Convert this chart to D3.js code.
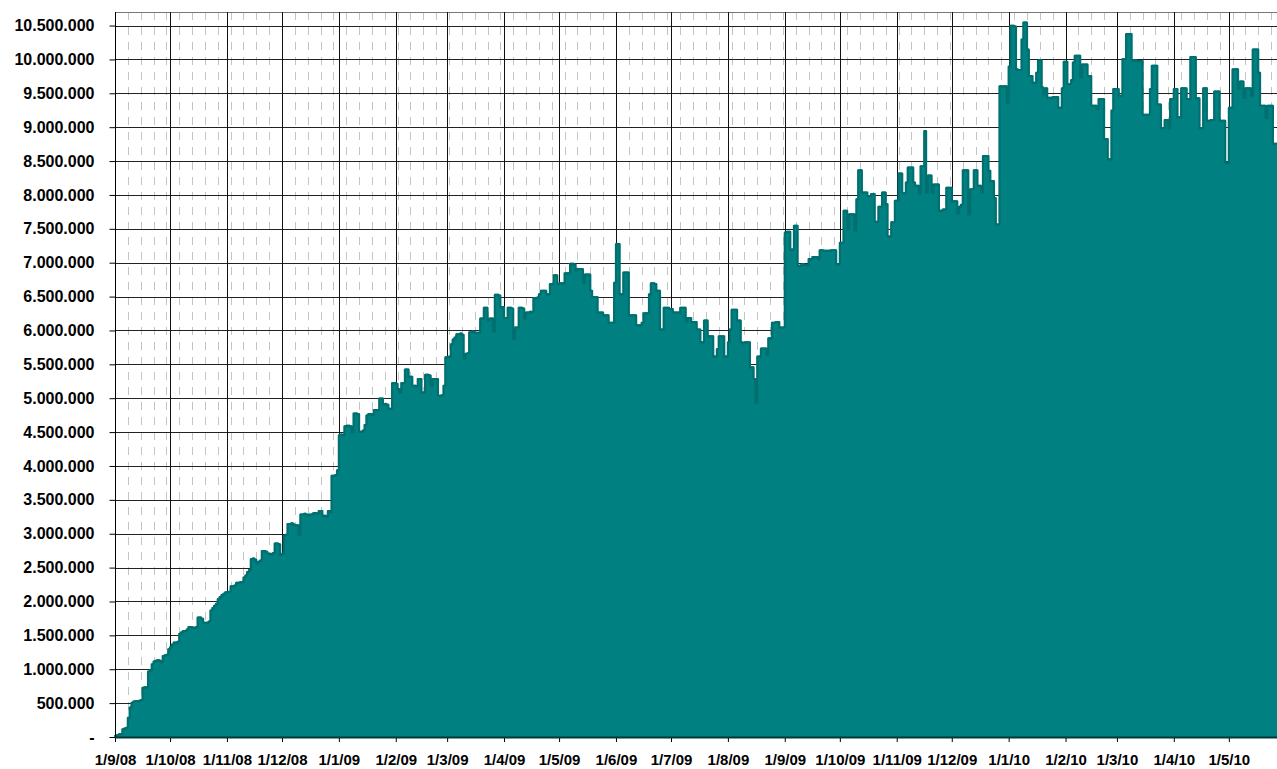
<!DOCTYPE html>
<html>
<head>
<meta charset="utf-8">
<script src="https://cdn.jsdelivr.net/npm/d3@7"></script>
<style>
  body{margin:0;background:#fff}
  svg{display:block}
  .axis text{font-family:"Liberation Sans",Arial,sans-serif;font-weight:bold;fill:#000}
</style>
</head>
<body>
<script>
// daily values, in thousands, one array per month
const sep08=[30,45,55,60,130,140,150,300,450,520,540,545,545,550,560,740,750,750,980,1000,1090,1130,1140,1150,1140,1120,1210,1220,1230,1310]
const oct08=[1340,1380,1410,1410,1420,1540,1560,1580,1580,1600,1640,1640,1630,1620,1640,1780,1780,1760,1700,1700,1700,1720,1880,1920,1950,1980,2050,2080,2110,2130,2150]
const nov08=[2150,2160,2240,2240,2250,2290,2290,2300,2300,2370,2400,2450,2480,2640,2650,2630,2580,2600,2620,2760,2760,2750,2720,2720,2710,2730,2870,2870,2860,2700]
const dec08=[2720,2980,3000,3160,3160,3170,3150,3140,3140,3000,3300,3300,3310,3300,3290,3300,3300,3320,3320,3310,3350,3350,3280,3280,3270,3350,3340,3870,3870,3880,3950]
const jan09=[4470,4480,4470,4600,4610,4610,4600,4510,4790,4790,4780,4520,4520,4540,4620,4760,4780,4780,4770,4840,4840,4840,5010,5010,4930,4930,4920,4860,4860,5240,5240]
const feb09=[5230,5150,5100,5240,5240,5440,5440,5330,5330,5200,5200,5190,5300,5300,5100,5100,5360,5360,5350,5200,5300,5300,5300,5050,5050,5060,5200,5620]
const mar09=[5620,5630,5810,5880,5910,5960,5960,5970,5950,5600,5670,5680,5990,5990,6000,5980,5980,5980,6190,6190,6350,6350,6170,6190,6190,6000,6540,6540,6530,6360,6360]
const apr09=[6200,6200,6350,6350,6340,5890,6060,6060,6350,6350,6340,6190,6280,6280,6290,6280,6490,6490,6500,6550,6600,6600,6600,6550,6550,6700,6700,6830,6830,6700]
const may09=[6710,6710,6710,6860,6860,6860,7000,7000,6990,6900,6920,6920,6920,6720,6840,6840,6840,6600,6510,6510,6510,6280,6280,6280,6240,6240,6240,6130,6130,6130,6720]
const jun09=[7290,7290,6550,6550,6870,6870,6870,6240,6240,6240,6240,6090,6090,6090,6130,6270,6270,6270,6550,6710,6710,6700,6600,6600,6030,6030,6350,6350,6350,6330]
const jul09=[6330,6280,6280,6280,6280,6350,6350,6350,6140,6200,6200,6140,6140,6140,6030,6030,5840,5840,6160,6160,5930,5930,5930,5630,5630,5740,5930,5930,5930,5630,5630]
const aug09=[5840,6030,6320,6320,6320,6160,6160,5840,5820,5840,5840,5840,5470,5470,5300,4950,5630,5630,5750,5750,5750,5660,5900,5900,6130,6130,6140,6140,6060,6060,6060]
const sep09=[7460,7470,7470,7210,7210,7560,7560,6970,6970,6990,6990,6980,6980,7070,7070,7100,7100,7100,7070,7200,7200,7190,7190,7190,7190,7200,7200,7200,6990,6990]
const oct09=[7310,7310,7780,7780,7510,7730,7730,7730,7490,7950,8380,8380,8050,8050,8050,8000,8000,8030,8030,7620,7620,7840,7840,8050,8050,7880,7400,7400,7610,7610,7930]
const nov09=[7930,8330,8330,8040,8040,8200,8420,8420,8420,8200,8150,8150,8030,8440,8440,8960,8050,8300,8300,8050,8170,8170,8170,7780,7780,7800,7800,8120,8120,8120]
const dec09=[7920,7920,7920,7740,7840,7870,8380,8380,8380,7730,8100,8100,8380,8380,8150,8150,8050,8590,8590,8590,8370,8220,8220,7970,7580,7580,9620,9620,9620,9620,9380]
const jan10=[9910,10510,10510,10500,9870,9860,9860,10310,10560,10560,10160,9770,9770,9670,9670,9820,10000,10000,9600,9500,9590,9450,9450,9450,9460,9460,9460,9300,9300,9590,9980]
const feb10=[9980,9650,9650,9710,9970,10070,10070,10070,9750,9940,9940,9940,9770,9770,9330,9330,9330,9280,9430,9430,9430,8840,8840,8540,8540,9260,9580,9580]
const mar10=[9580,9480,9480,10020,10020,10390,10390,10390,10000,10000,10000,9990,9990,9990,9200,9200,9200,9200,9580,9920,9920,9920,9350,9350,9000,9000,9120,9120,9000,9430,9430]
const apr10=[9580,9580,9160,9160,9590,9590,9590,9430,9430,10050,10050,10050,9440,9440,9000,9000,9590,9590,9110,9110,9120,9120,9540,9540,9540,9110,9110,9110,8490,8490]
const may10=[9300,9300,9870,9870,9870,9580,9690,9690,9450,9590,9590,9590,9480,10160,10160,10160,9820,9330,9330,9330,9150,9330,9330,9330,8770,8770,8770]

const monthStarts=["2008-09-01","2008-10-01","2008-11-01","2008-12-01","2009-01-01","2009-02-01","2009-03-01","2009-04-01","2009-05-01","2009-06-01","2009-07-01","2009-08-01","2009-09-01","2009-10-01","2009-11-01","2009-12-01","2010-01-01","2010-02-01","2010-03-01","2010-04-01","2010-05-01"]
const monthValues=[sep08,oct08,nov08,dec08,jan09,feb09,mar09,apr09,may09,jun09,jul09,aug09,sep09,oct09,nov09,dec09,jan10,feb10,mar10,apr10,may10]
const xTickLabels=["1/9/08","1/10/08","1/11/08","1/12/08","1/1/09","1/2/09","1/3/09","1/4/09","1/5/09","1/6/09","1/7/09","1/8/09","1/9/09","1/10/09","1/11/09","1/12/09","1/1/10","1/2/10","1/3/10","1/4/10","1/5/10"]
const yTicks=d3.range(0,10500001,500000)

let chartW=1277, chartH=769
let plotLeft=115, plotTop=12, plotBottom=737, plotRight=1278.4

let data=[]
monthStarts.forEach((m,i)=>{
  let start=new Date(m+"T00:00:00Z")
  monthValues[i].forEach((v,j)=>{
    data.push({date:d3.utcDay.offset(start,j),value:v*1000})
  })
})
// closing point so the last day gets its full width
let stepData=[...data,{date:d3.utcDay.offset(data[data.length-1].date,1),value:data[data.length-1].value}]

let x=d3.scaleUtc().domain([new Date("2008-09-01T00:00:00Z"),new Date("2010-05-28T00:00:00Z")]).range([plotLeft,plotRight])
let y=d3.scaleLinear().domain([0,10700000]).range([plotBottom,plotTop])

let svg=d3.select("body").append("svg").attr("width",chartW).attr("height",chartH)

// minor weekly grid
let mondays=d3.utcMonday.range(d3.utcDay.offset(x.domain()[0],1),x.domain()[1])
svg.append("g").selectAll("line").data(mondays).join("line")
  .attr("x1",d=>Math.round(x(d))+0.5).attr("x2",d=>Math.round(x(d))+0.5)
  .attr("y1",plotTop).attr("y2",plotBottom)
  .attr("stroke","#c4c4c4").attr("stroke-dasharray","8,7")

// horizontal grid
svg.append("g").selectAll("line").data(yTicks.slice(1)).join("line")
  .attr("x1",plotLeft).attr("x2",chartW)
  .attr("y1",d=>Math.round(y(d))+0.5).attr("y2",d=>Math.round(y(d))+0.5)
  .attr("stroke","#222")
svg.append("line").attr("x1",plotLeft).attr("x2",chartW).attr("y1",plotTop+0.5).attr("y2",plotTop+0.5).attr("stroke","#777")

// month grid
let monthDates=monthStarts.map(m=>new Date(m+"T00:00:00Z"))
svg.append("g").selectAll("line").data(monthDates.slice(1)).join("line")
  .attr("x1",d=>Math.round(x(d))+0.5).attr("x2",d=>Math.round(x(d))+0.5)
  .attr("y1",plotTop).attr("y2",plotBottom)
  .attr("stroke","#111")

// daily columns, drawn as one stepped shape so neighbours do not leave seams
let area=d3.area().curve(d3.curveStepAfter)
  .x(d=>x(d.date)).y0(plotBottom).y1(d=>y(d.value))
svg.append("path").datum(stepData).attr("d",area).attr("fill","#008080")
let outline=d3.line().curve(d3.curveStepAfter)
  .x(d=>x(d.date)).y(d=>y(d.value)+1.1)
svg.append("path").datum(stepData).attr("d",outline)
  .attr("fill","none").attr("stroke","#006f6f").attr("stroke-width",2.2)
  .attr("stroke-linejoin","round").attr("stroke-linecap","round")

// axes
let fmt=d3.formatLocale({decimal:",",thousands:".",grouping:[3],currency:["",""]}).format(",")
let yAxis=d3.axisLeft(y).tickValues(yTicks).tickSize(6).tickPadding(15)
  .tickFormat(d=>d===0?"-":fmt(d))
let gy=svg.append("g").attr("class","axis").attr("transform",`translate(${plotLeft+0.5},0)`).call(yAxis)
gy.select(".domain").remove()
gy.selectAll("line").attr("stroke","#000")
gy.selectAll("text").style("font-size","16px")
svg.append("line").attr("x1",plotLeft+0.5).attr("x2",plotLeft+0.5).attr("y1",plotTop).attr("y2",plotBottom).attr("stroke","#000")

let xAxis=d3.axisBottom(x).tickValues(monthDates).tickSize(5).tickPadding(12)
  .tickFormat((d,i)=>xTickLabels[i])
let gx=svg.append("g").attr("class","axis").attr("transform",`translate(0,${plotBottom})`).call(xAxis)
gx.select(".domain").remove()
gx.selectAll("line").attr("stroke","#000")
gx.selectAll("text").style("font-size","15px")
svg.append("line").attr("x1",plotLeft).attr("x2",chartW).attr("y1",plotBottom+0.5).attr("y2",plotBottom+0.5)
  .attr("stroke","#003838").attr("stroke-width",2)
</script>
</body>
</html>
